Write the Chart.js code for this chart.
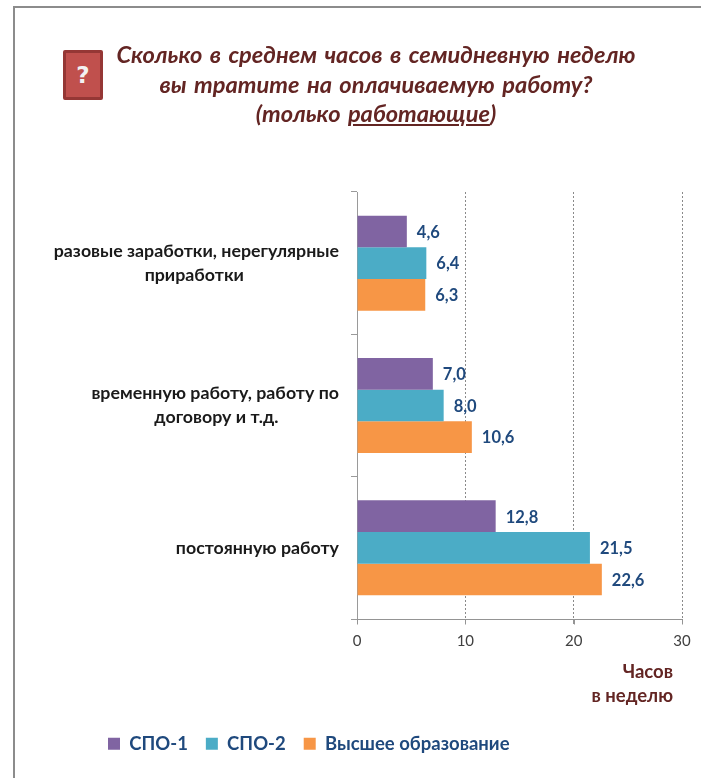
<!DOCTYPE html>
<html lang="ru">
<head>
<meta charset="utf-8">
<script src="https://cdn.jsdelivr.net/npm/chart.js@4/dist/chart.umd.min.js"></script>
<style>
html,body{margin:0;padding:0;background:#fff;}
#wrap{position:relative;width:701px;height:778px;overflow:hidden;background:#fff;}
#frame{position:absolute;left:13px;top:6px;width:700px;height:790px;border-left:2px solid #8c8c8c;border-top:2px solid #8c8c8c;}
#chart{position:absolute;left:0;top:0;width:701px;height:778px;}
#title{position:absolute;left:66px;top:40px;width:620px;text-align:center;font:italic bold 23.6px/29.5px Lato,sans-serif;color:#632523;word-spacing:2.2px;}
#icon{position:absolute;left:63px;top:50px;width:40px;height:50px;box-sizing:border-box;background:#c0504d;border:3px solid #953735;border-radius:2px;color:#f2f2f2;font:bold 23px/44px "DejaVu Sans",sans-serif;text-align:center;}
</style>
</head>
<body>
<div id="wrap">
<div id="frame"></div>
<canvas id="chart" width="701" height="778"></canvas>
<div id="icon">?</div>
<div id="title">Сколько в среднем часов в семидневную неделю<br>вы тратите на оплачиваемую работу?<br>(только <u>работающие</u>)</div>
</div>
<script>
const categories = [
  ["разовые заработки, нерегулярные", "приработки"],
  ["временную работу, работу по", "договору и т.д."],
  ["постоянную работу"]
];
const seriesNames = ["СПО-1", "СПО-2", "Высшее образование"];
const spo1 = [4.6, 7.0, 12.8];
const spo2 = [6.4, 8.0, 21.5];
const higher = [6.3, 10.6, 22.6];
const seriesColors = ["#8064A2", "#4BACC6", "#F79646"];
const xTicks = [0, 10, 20, 30];
const axisTitle = ["Часов\u00A0\u00A0", "в неделю\u00A0\u00A0"];

const catFont = 'bold 17.8px Lato, sans-serif';
const measure = document.createElement('canvas').getContext('2d');
measure.font = catFont;
function centredLines(lines) {
  const widest = Math.max(...lines.map(l => measure.measureText(l).width));
  const space = measure.measureText('\u00A0').width;
  return lines.map(l => l + '\u00A0'.repeat(Math.round((widest - measure.measureText(l).width) / 2 / space)));
}

const valueLabels = {
  id: 'valueLabels',
  afterDatasetsDraw(chart) {
    const ctx = chart.ctx;
    ctx.save();
    ctx.font = 'bold 16.5px Lato, sans-serif';
    ctx.fillStyle = '#1F497D';
    ctx.textAlign = 'left';
    ctx.textBaseline = 'middle';
    chart.data.datasets.forEach((ds, d) => {
      chart.getDatasetMeta(d).data.forEach((bar, i) => {
        ctx.fillText(ds.data[i].toFixed(1).replace('.', ','), bar.x + 10, bar.y + 1);
      });
    });
    ctx.restore();
  }
};

const valueAxisLine = {
  id: 'valueAxisLine',
  afterDraw(chart) {
    const { ctx, chartArea, scales } = chart;
    const y = Math.round(chartArea.bottom) + 0.5;
    ctx.save();
    ctx.strokeStyle = '#949494';
    ctx.lineWidth = 1;
    ctx.setLineDash([]);
    ctx.beginPath();
    ctx.moveTo(chartArea.left, y);
    ctx.lineTo(chartArea.right, y);
    xTicks.forEach(v => {
      const x = Math.round(scales.x.getPixelForValue(v)) + 0.5;
      ctx.moveTo(x, y);
      ctx.lineTo(x, y + 5);
    });
    ctx.stroke();
    ctx.restore();
  }
};

const legendOffset = {
  id: 'legendOffset',
  beforeDraw(chart) { chart.legend.left = 90; }
};

new Chart(document.getElementById('chart'), {
  type: 'bar',
  data: {
    labels: categories,
    datasets: [spo1, spo2, higher].map((values, i) => ({
      label: seriesNames[i],
      data: values,
      backgroundColor: seriesColors[i],
      barPercentage: 1,
      categoryPercentage: 0.667
    }))
  },
  options: {
    indexAxis: 'y',
    responsive: false,
    animation: false,
    layout: { padding: { top: 192, right: 19, bottom: 15, left: 0 } },
    plugins: {
      tooltip: { enabled: false },
      title: { display: false },
      legend: {
        position: 'bottom',
        align: 'start',
        labels: {
          boxWidth: 12,
          boxHeight: 12,
          padding: 18,
          color: '#1F497D',
          font: { family: 'Lato, sans-serif', size: 18.5, weight: 'bold' }
        }
      }
    },
    scales: {
      x: {
        min: 0,
        max: 30,
        position: 'bottom',
        afterBuildTicks(scale) { scale.ticks = xTicks.map(v => ({ value: v })); },
        afterFit(scale) { scale.height = 97.5; },
        border: { display: false, dash: [2, 2] },
        grid: { color: '#8a8a8a', tickLength: 5, drawTicks: true, tickColor: '#949494', tickBorderDash: [] },
        ticks: { color: '#404040', padding: 8, maxRotation: 0, font: { family: 'Lato, sans-serif', size: 15 } },
        title: {
          display: true,
          text: axisTitle,
          align: 'end',
          color: '#632523',
          padding: { top: 5, bottom: 8 },
          font: { family: 'Lato, sans-serif', size: 18.5, weight: 'bold', lineHeight: 1.3 }
        }
      },
      y: {
        afterFit(scale) { scale.width = 357; },
        border: { color: '#9a9a9a' },
        grid: { offset: true, drawOnChartArea: false, color: '#9a9a9a', tickLength: 6 },
        ticks: {
          color: '#1a1a1a',
          padding: 12,
          autoSkip: false,
          font: { family: 'Lato, sans-serif', size: 17.8, weight: 'bold', lineHeight: 1.33 },
          callback(value) { return centredLines(categories[value]); }
        }
      }
    }
  },
  plugins: [valueLabels, valueAxisLine, legendOffset]
});
</script>
</body>
</html>
